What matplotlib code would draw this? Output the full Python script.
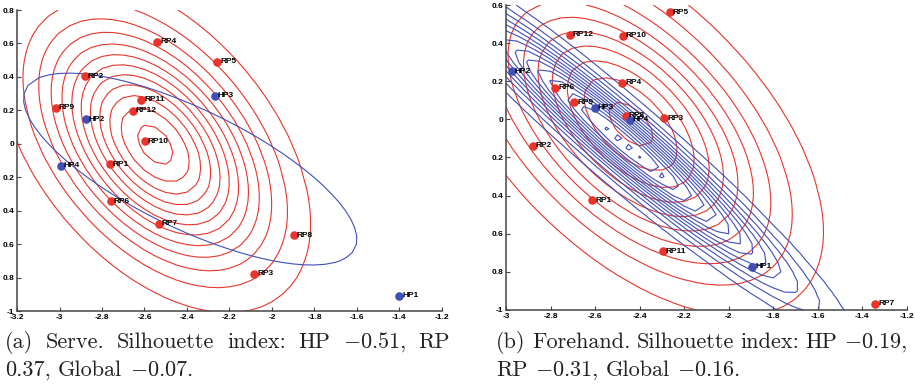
import numpy as np
import matplotlib.pyplot as plt

plt.rcParams['mathtext.fontset'] = 'cm'

# (a) Serve
serve_rp_names = ["RP1", "RP2", "RP3", "RP4", "RP5", "RP6", "RP7", "RP8", "RP9", "RP10", "RP11", "RP12"]
serve_rp_x = [-2.764, -2.880, -2.083, -2.540, -2.257, -2.758, -2.532, -1.898, -3.016, -2.598, -2.615, -2.654]
serve_rp_y = [-0.121, 0.404, -0.776, 0.610, 0.490, -0.344, -0.478, -0.547, 0.217, 0.016, 0.263, 0.197]
serve_hp_names = ["HP1", "HP2", "HP3", "HP4"]
serve_hp_x = [-1.401, -2.875, -2.270, -2.994]
serve_hp_y = [-0.907, 0.147, 0.287, -0.130]

# (b) Forehand
fore_rp_names = ["RP1", "RP2", "RP3", "RP4", "RP5", "RP6", "RP7", "RP8", "RP9", "RP10", "RP11", "RP12"]
fore_rp_x = [-2.612, -2.880, -2.289, -2.477, -2.263, -2.778, -1.341, -2.462, -2.693, -2.476, -2.295, -2.712]
fore_rp_y = [-0.425, -0.138, 0.005, 0.193, 0.562, 0.167, -0.968, 0.019, 0.091, 0.440, -0.691, 0.444]
fore_hp_names = ["HP1", "HP2", "HP3", "HP4"]
fore_hp_x = [-1.894, -2.974, -2.600, -2.443]
fore_hp_y = [-0.772, 0.253, 0.060, -0.002]

serve_xticks = [-3.2, -3, -2.8, -2.6, -2.4, -2.2, -2, -1.8, -1.6, -1.4, -1.2]
serve_yticks = [-1, -0.8, -0.6, -0.4, -0.2, 0, 0.2, 0.4, 0.6, 0.8]
fore_xticks = [-3, -2.8, -2.6, -2.4, -2.2, -2, -1.8, -1.6, -1.4, -1.2]
fore_yticks = [-1, -0.8, -0.6, -0.4, -0.2, 0, 0.2, 0.4, 0.6]

caption_a = [["(a)", "Serve.", "Silhouette", "index:", "HP", "$-$0.51,", "RP"],
             ["0.37,", "Global", "$-$0.07."]]
caption_b = [["(b)", "Forehand.", "Silhouette", "index:", "HP", "$-$0.19,"],
             ["RP", "$-$0.31,", "Global", "$-$0.16."]]

RED = "#e8342a"
BLUE = "#3f4fb5"
CAP_SIZE = 16


def gauss_fit(xs, ys, gx, gy):
    pts = np.vstack([xs, ys])
    mu = pts.mean(axis=1)
    cov = np.cov(pts)
    inv = np.linalg.inv(cov)
    dx = gx - mu[0]
    dy = gy - mu[1]
    q = inv[0, 0] * dx * dx + 2 * inv[0, 1] * dx * dy + inv[1, 1] * dy * dy
    return np.exp(-q / 2) / (2 * np.pi * np.sqrt(np.linalg.det(cov)))


def nice_levels(z, step):
    return np.arange(step, z.max(), step)


def style_axes(ax, xticks, yticks):
    ax.set_xlim(xticks[0], xticks[-1])
    ax.set_ylim(yticks[0], yticks[-1])
    ax.set_xticks(xticks)
    ax.set_yticks(yticks)
    ax.set_xticklabels([f"{v:g}" for v in xticks])
    # minus signs of the y labels are lost in the original, except for -1
    ax.set_yticklabels(["-1" if v == -1 else f"{abs(v):g}" for v in yticks])
    for s in ["top", "right"]:
        ax.spines[s].set_visible(False)
    for s in ["left", "bottom"]:
        ax.spines[s].set_color("#444444")
        ax.spines[s].set_linewidth(1.1)
    ax.tick_params(direction="in", length=3, width=0.8, color="#444444",
                   labelsize=6, pad=2)
    for lab in ax.get_xticklabels() + ax.get_yticklabels():
        lab.set_fontweight("bold")
        lab.set_family("Liberation Sans")


def draw_points(ax, names, xs, ys, color):
    ax.scatter(xs, ys, s=38, color=color, zorder=5, linewidths=0)
    for n, x, y in zip(names, xs, ys):
        ax.annotate(n, (x, y), xytext=(2, 0), textcoords="offset points",
                    va="center", ha="left", fontsize=6, fontweight="bold",
                    family="Liberation Sans", zorder=6)


fig = plt.figure(figsize=(9.15, 3.86), dpi=100)
ax1 = fig.add_axes([0.0186, 0.194, 0.4644, 0.78])
ax2 = fig.add_axes([0.553, 0.197, 0.438, 0.79])

# (a)
gx, gy = np.meshgrid(np.arange(-3.2, -1.2 + 1e-9, 0.05), np.arange(-1.0, 0.8 + 1e-9, 0.05))
z_rp = gauss_fit(serve_rp_x, serve_rp_y, gx, gy)
z_hp = gauss_fit(serve_hp_x, serve_hp_y, gx, gy)
ax1.contour(gx, gy, z_rp, levels=nice_levels(z_rp, 0.1), colors=RED, linewidths=0.8)
ax1.contour(gx, gy, z_hp, levels=[0.56 * z_hp.max()], colors=BLUE, linewidths=0.8)
draw_points(ax1, serve_rp_names, serve_rp_x, serve_rp_y, RED)
draw_points(ax1, serve_hp_names, serve_hp_x, serve_hp_y, BLUE)
style_axes(ax1, serve_xticks, serve_yticks)

# (b)
gx, gy = np.meshgrid(np.arange(-3.0, -1.2 + 1e-9, 0.05), np.arange(-1.0, 0.6 + 1e-9, 0.05))
z_rp = gauss_fit(fore_rp_x, fore_rp_y, gx, gy)
z_hp = gauss_fit(fore_hp_x, fore_hp_y, gx, gy)
ax2.contour(gx, gy, z_rp, levels=nice_levels(z_rp, 0.1), colors=RED, linewidths=0.8)
ax2.contour(gx, gy, z_hp, levels=nice_levels(z_hp, 0.2), colors=BLUE, linewidths=0.8)
draw_points(ax2, fore_rp_names, fore_rp_x, fore_rp_y, RED)
draw_points(ax2, fore_hp_names, fore_hp_x, fore_hp_y, BLUE)
style_axes(ax2, fore_xticks, fore_yticks)


def caption(lines, x0, x1, y0, dy):
    W = fig.bbox.width
    r = fig.canvas.get_renderer()
    for i, words in enumerate(lines):
        y = y0 - i * dy
        texts = [fig.text(0, y, w, fontsize=CAP_SIZE, family="cmr10", va="baseline",
                          color="#222222") for w in words]
        widths = [t.get_window_extent(r).width for t in texts]
        if i == 0:
            gap = ((x1 - x0) * W - sum(widths)) / (len(words) - 1)
        else:
            gap = 0.33 * CAP_SIZE * 100 / 72
        pos = x0 * W
        for t, w in zip(texts, widths):
            t.set_x(pos / W)
            pos += w + gap


fig.canvas.draw()
caption(caption_a, 5 / 915, 450 / 915, 1 - 348 / 386, 28 / 386)
caption(caption_b, 496 / 915, 907 / 915, 1 - 348 / 386, 28 / 386)

fig.savefig("out.png", dpi=100)
